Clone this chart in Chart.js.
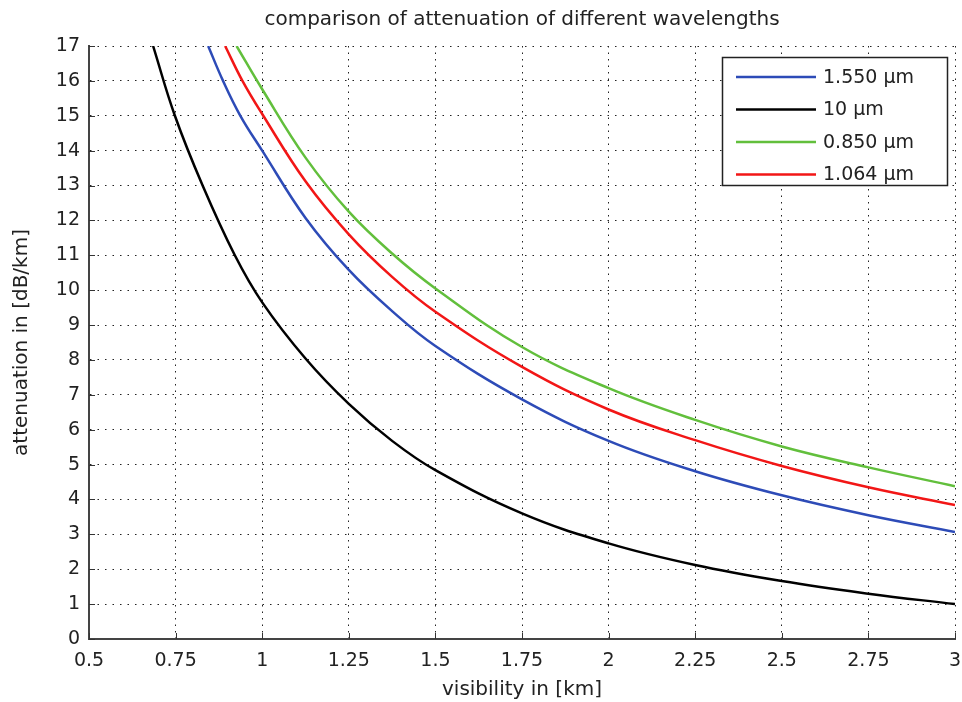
<!DOCTYPE html>
<html>
<head>
<meta charset="utf-8">
<script src="https://cdn.jsdelivr.net/npm/chart.js@4.4.0/dist/chart.umd.min.js"></script>
<style>
  html, body { margin: 0; padding: 0; background: #fff; }
</style>
</head>
<body>
<canvas id="grafico" width="962" height="702"></canvas>
<script>
const titulo = 'comparison of attenuation of different wavelengths'
const tituloX = 'visibility in [km]'
const tituloY = 'attenuation in [dB/km]'

const legendas = ['1.550 µm', '10 µm', '0.850 µm', '1.064 µm']
const cores = ['#2d4bb7', '#000000', '#62bf3c', '#f21616']

const xTicks = [0.5, 0.75, 1, 1.25, 1.5, 1.75, 2, 2.25, 2.5, 2.75, 3]
const xTickLabels = ['0.5', '0.75', '1', '1.25', '1.5', '1.75', '2', '2.25', '2.5', '2.75', '3']
const yTicks = [0, 1, 2, 3, 4, 5, 6, 7, 8, 9, 10, 11, 12, 13, 14, 15, 16, 17]

// visibility (km) and attenuation (dB/km)
const visAzul = [0.844, 0.887, 0.937, 1.0, 1.125, 1.25, 1.375, 1.5, 1.75, 2.0, 2.25, 2.5, 2.75, 3.0]
const attAzul = [17, 16, 15, 14.0, 12.07, 10.58, 9.4, 8.4, 6.87, 5.68, 4.81, 4.12, 3.55, 3.07]

const visPreto = [0.685, 0.748, 0.828, 0.921, 1.0, 1.125, 1.25, 1.375, 1.5, 1.75, 2.0, 2.25, 2.5, 2.75, 3.0]
const attPreto = [17, 15, 13, 11, 9.65, 8.04, 6.74, 5.68, 4.84, 3.6, 2.74, 2.12, 1.66, 1.3, 1.0]

const visVerde = [0.926, 1.0, 1.125, 1.25, 1.375, 1.5, 1.75, 2.0, 2.25, 2.5, 2.75, 3.0]
const attVerde = [17, 15.76, 13.8, 12.25, 11.05, 10.05, 8.37, 7.19, 6.28, 5.52, 4.92, 4.38]

const visVermelho = [0.893, 0.943, 1.0, 1.125, 1.25, 1.375, 1.5, 1.75, 2.0, 2.25, 2.5, 2.75, 3.0]
const attVermelho = [17, 16, 15.05, 13.12, 11.6, 10.38, 9.38, 7.8, 6.58, 5.70, 4.96, 4.35, 3.84]

const fonte = 'DejaVu Sans'

function montaPontos(vis, att) {
    return vis.map((v, i) => ({ x: v, y: att[i] }))
}

function montaSerie(indice, vis, att) {
    return {
        label: legendas[indice],
        data: montaPontos(vis, att),
        borderColor: cores[indice],
        backgroundColor: cores[indice],
        borderWidth: 2.5,
        pointRadius: 0,
        showLine: true,
        fill: false,
        tension: 0.4
    }
}

// title, inner ticks and the boxed legend, matlab style
const extras = {
    id: 'extras',
    afterDraw(chart) {
        const ctx = chart.ctx
        const area = chart.chartArea
        const sx = chart.scales.x
        const sy = chart.scales.y
        ctx.save()

        ctx.fillStyle = '#222'
        ctx.font = '20px "' + fonte + '"'
        ctx.textAlign = 'center'
        ctx.textBaseline = 'middle'
        ctx.fillText(titulo, (area.left + area.right) / 2, 20)

        ctx.strokeStyle = '#333'
        ctx.lineWidth = 1
        ctx.beginPath()
        xTicks.forEach(v => {
            const px = Math.round(sx.getPixelForValue(v)) + 0.5
            ctx.moveTo(px, area.bottom)
            ctx.lineTo(px, area.bottom - 6)
        })
        yTicks.forEach(v => {
            const py = Math.round(sy.getPixelForValue(v)) + 0.5
            ctx.moveTo(area.left, py)
            ctx.lineTo(area.left + 6, py)
        })
        ctx.stroke()

        const bx = 722.5, by = 57.5, bw = 225, bh = 128
        ctx.fillStyle = '#fff'
        ctx.fillRect(bx, by, bw, bh)
        ctx.strokeStyle = '#222'
        ctx.lineWidth = 1.5
        ctx.strokeRect(bx, by, bw, bh)

        ctx.font = '19px "' + fonte + '"'
        ctx.textAlign = 'left'
        chart.data.datasets.forEach((ds, i) => {
            const ly = 77 + i * 32.5
            ctx.strokeStyle = ds.borderColor
            ctx.lineWidth = 2.5
            ctx.beginPath()
            ctx.moveTo(736, ly)
            ctx.lineTo(816, ly)
            ctx.stroke()
            ctx.fillStyle = '#222'
            ctx.fillText(ds.label, 823, ly + 1)
        })
        ctx.restore()
    }
}

const grafico = document.getElementById('grafico')

new Chart(grafico, {
    type: 'scatter',
    data: {
        datasets: [
            montaSerie(0, visAzul, attAzul),
            montaSerie(1, visPreto, attPreto),
            montaSerie(2, visVerde, attVerde),
            montaSerie(3, visVermelho, attVermelho)
        ]
    },
    options: {
        responsive: false,
        animation: false,
        layout: { padding: { top: 46, right: 7, left: 0, bottom: 0 } },
        plugins: {
            legend: { display: false },
            title: { display: false },
            tooltip: { enabled: false }
        },
        scales: {
            x: {
                type: 'linear',
                min: 0.5,
                max: 3,
                afterFit: s => { s.height = 63; s.paddingLeft = 0; s.paddingRight = 0 },
                afterBuildTicks: s => { s.ticks = xTicks.map(v => ({ value: v })) },
                ticks: {
                    color: '#222',
                    padding: 11,
                    font: { family: fonte, size: 19 },
                    callback: (v) => xTickLabels[xTicks.indexOf(v)]
                },
                grid: { color: '#222', lineWidth: 1, drawTicks: false },
                border: { color: '#444', width: 2, dash: [1.5, 5] },
                title: {
                    display: true,
                    text: tituloX,
                    color: '#222',
                    font: { family: fonte, size: 20 },
                    padding: { top: 0, bottom: 0 }
                }
            },
            y: {
                min: 0,
                max: 17,
                afterFit: s => { s.width = 89 },
                afterBuildTicks: s => { s.ticks = yTicks.map(v => ({ value: v })) },
                ticks: {
                    color: '#222',
                    padding: 9,
                    font: { family: fonte, size: 19 },
                    callback: (v) => String(v)
                },
                grid: { color: '#222', lineWidth: 1, drawTicks: false },
                border: { color: '#444', width: 2, dash: [1.5, 6] },
                title: {
                    display: true,
                    text: tituloY,
                    color: '#222',
                    font: { family: fonte, size: 20 },
                    padding: { top: 10, bottom: 0 }
                }
            }
        }
    },
    plugins: [extras]
})
</script>
</body>
</html>
